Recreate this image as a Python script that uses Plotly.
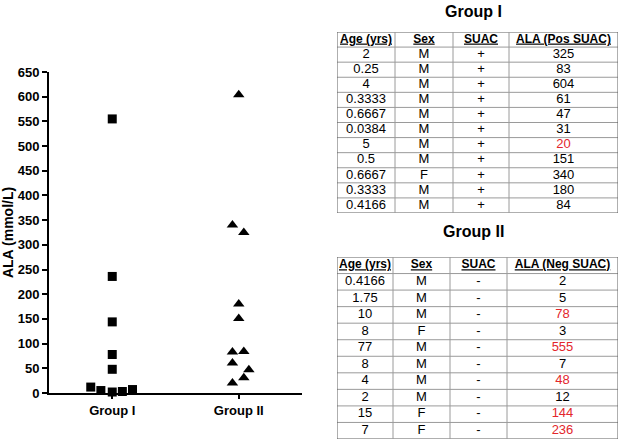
import plotly.graph_objects as go

# ---- scatter data (as drawn in the reference) ----
group_labels = ["Group I", "Group II"]
g1_values = [555, 236, 144, 78, 48, 12, 5, 2, 3, 7]
g1_jitter = [0, 0, 0, 0, 0, -0.17, -0.09, 0, 0.08, 0.16]
g2_values = [604, 340, 325, 180, 151, 84, 83, 61, 47, 31, 20]
g2_jitter = [0, -0.05, 0.04, 0, 0, 0.04, -0.05, -0.05, 0.08, 0.04, -0.05]
y_ticks = list(range(0, 651, 50))

# ---- table 1 (Group I) ----
t1_title = "Group I"
t1_header = ["Age (yrs)", "Sex", "SUAC", "ALA (Pos SUAC)"]
t1_age = ["2", "0.25", "4", "0.3333", "0.6667", "0.0384", "5", "0.5", "0.6667", "0.3333", "0.4166"]
t1_sex = ["M", "M", "M", "M", "M", "M", "M", "M", "F", "M", "M"]
t1_suac = ["+"] * 11
t1_ala = [325, 83, 604, 61, 47, 31, 20, 151, 340, 180, 84]
t1_red = [False, False, False, False, False, False, True, False, False, False, False]

# ---- table 2 (Group II) ----
t2_title = "Group II"
t2_header = ["Age (yrs)", "Sex", "SUAC", "ALA (Neg SUAC)"]
t2_age = ["0.4166", "1.75", "10", "8", "77", "8", "4", "2", "15", "7"]
t2_sex = ["M", "M", "M", "F", "M", "M", "M", "M", "F", "F"]
t2_suac = ["-"] * 10
t2_ala = [2, 5, 78, 3, 555, 7, 48, 12, 144, 236]
t2_red = [False, False, True, False, True, False, True, False, True, True]

W, H = 620, 440
FONT = "Arial, Liberation Sans, sans-serif"
RED = "#e3262c"
GRID = "#9a9a9a"
BORDER = "#5e5e5e"

def px_x(a, b):
    return [a / W, b / W]

def px_y(top, bottom):
    return [1 - bottom / H, 1 - top / H]

fig = go.Figure()

fig.add_trace(go.Scatter(
    x=[0 + j for j in g1_jitter], y=g1_values, mode="markers",
    marker=dict(symbol="square", size=9, color="black"),
    cliponaxis=False, showlegend=False, hoverinfo="skip"))
fig.add_trace(go.Scatter(
    x=[1 + j for j in g2_jitter], y=g2_values, mode="markers",
    marker=dict(symbol="triangle-up", size=10, color="black"),
    cliponaxis=False, showlegend=False, hoverinfo="skip"))

shapes = []

def add_table(axn, header, cols, red, col_widths):
    xa, ya = "x%d" % axn, "y%d" % axn
    edges = [0]
    for w in col_widths:
        edges.append(edges[-1] + w)
    centers = [(edges[i] + edges[i + 1]) / 2 for i in range(len(col_widths))]
    nrows = len(cols[0]) + 1
    # header
    fig.add_trace(go.Scatter(
        x=centers, y=[0.5] * len(header), mode="text",
        text=["<b><u>%s</u></b>" % h for h in header],
        textfont=dict(family=FONT, size=12, color="black"),
        xaxis=xa, yaxis=ya, showlegend=False, hoverinfo="skip", cliponaxis=False))
    # body
    xs, ys, ts, cs = [], [], [], []
    for ci, col in enumerate(cols):
        for ri, v in enumerate(col):
            xs.append(centers[ci])
            ys.append(ri + 1.5)
            ts.append(str(v))
            cs.append(RED if (ci == len(cols) - 1 and red[ri]) else "black")
    fig.add_trace(go.Scatter(
        x=xs, y=ys, mode="text", text=ts,
        textfont=dict(family=FONT, size=13, color=cs),
        xaxis=xa, yaxis=ya, showlegend=False, hoverinfo="skip", cliponaxis=False))
    for r in range(nrows + 1):
        outer = r in (0, nrows)
        shapes.append(dict(type="line", xref=xa, yref=ya, x0=edges[0], x1=edges[-1],
                           y0=r, y1=r, line=dict(color=BORDER if outer else GRID, width=1)))
    for i, e in enumerate(edges):
        outer = i in (0, len(edges) - 1)
        shapes.append(dict(type="line", xref=xa, yref=ya, x0=e, x1=e,
                           y0=0, y1=nrows, line=dict(color=BORDER if outer else GRID, width=1)))
    return edges[-1], nrows

w1, n1 = add_table(2, t1_header, [t1_age, t1_sex, t1_suac, t1_ala], t1_red, [58, 58, 56, 109])
w2, n2 = add_table(3, t2_header, [t2_age, t2_sex, t2_suac, t2_ala], t2_red, [56, 57, 57, 111])

hidden = dict(visible=False, showgrid=False, zeroline=False, fixedrange=True, automargin=False)

fig.update_layout(
    template="none",
    width=W, height=H, autosize=False,
    margin=dict(l=0, r=0, t=0, b=0, pad=0, autoexpand=False),
    paper_bgcolor="white", plot_bgcolor="white",
    font=dict(family=FONT, color="black"),
    xaxis=dict(domain=px_x(49, 302), range=[-0.5, 1.5],
               tickvals=[0, 1], ticktext=["<b>%s</b>" % g for g in group_labels],
               tickfont=dict(size=13), ticks="outside", ticklen=4, tickwidth=2,
               tickcolor="black",
               showline=True, linecolor="black", linewidth=2, automargin=False,
               showgrid=False, zeroline=False, fixedrange=True),
    yaxis=dict(domain=px_y(72, 393), range=[0, 650],
               tickvals=y_ticks, ticktext=["<b>%d</b>" % v for v in y_ticks],
               tickfont=dict(size=13), ticks="outside", ticklen=5, tickwidth=2,
               tickcolor="black",
               showline=True, linecolor="black", linewidth=2, automargin=False,
               showgrid=False, zeroline=False, fixedrange=True,
               title=dict(text="<b>ALA (mmol/L)</b>", font=dict(size=14), standoff=6)),
    xaxis2=dict(domain=px_x(337, 337 + w1), range=[0, w1], anchor="y2", **hidden),
    yaxis2=dict(domain=px_y(32, 213), range=[n1, 0], anchor="x2", **hidden),
    xaxis3=dict(domain=px_x(337, 337 + w2), range=[0, w2], anchor="y3", **hidden),
    yaxis3=dict(domain=px_y(257, 439), range=[n2, 0], anchor="x3", **hidden),
    shapes=shapes,
    annotations=[
        dict(text="<b>%s</b>" % t1_title, x=473 / W, y=1 - 12 / H, xref="paper", yref="paper",
             showarrow=False, font=dict(size=16), xanchor="center", yanchor="middle"),
        dict(text="<b>%s</b>" % t2_title, x=473 / W, y=1 - 232 / H, xref="paper", yref="paper",
             showarrow=False, font=dict(size=16), xanchor="center", yanchor="middle"),
    ],
)

fig.write_html("out.html", config={"displayModeBar": False, "staticPlot": True},
               post_script="document.body.style.margin='0';")
